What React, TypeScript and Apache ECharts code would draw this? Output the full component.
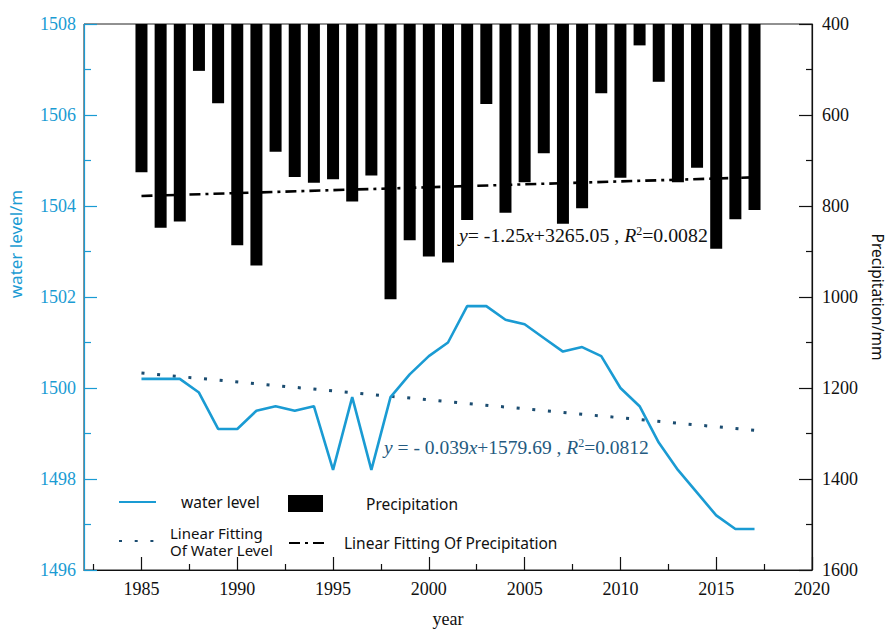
import React, { useEffect, useRef } from 'react';
import * as echarts from 'echarts';

const years = [1985, 1986, 1987, 1988, 1989, 1990, 1991, 1992, 1993, 1994, 1995, 1996, 1997, 1998, 1999, 2000, 2001, 2002, 2003, 2004, 2005, 2006, 2007, 2008, 2009, 2010, 2011, 2012, 2013, 2014, 2015, 2016, 2017];
const precipitation = [726, 848, 834, 503, 574, 886, 931, 681, 736, 749, 741, 790, 733, 1005, 875, 911, 924, 831, 576, 815, 748, 684, 839, 805, 552, 738, 447, 527, 748, 716, 894, 829, 809];
const waterLevel = [1500.2, 1500.2, 1500.2, 1499.9, 1499.1, 1499.1, 1499.5, 1499.6, 1499.5, 1499.6, 1498.2, 1499.8, 1498.2, 1499.8, 1500.3, 1500.7, 1501.0, 1501.8, 1501.8, 1501.5, 1501.4, 1501.1, 1500.8, 1500.9, 1500.7, 1500.0, 1499.6, 1498.8, 1498.2, 1497.7, 1497.2, 1496.9, 1496.9];
const waterFitYears = [1985, 2017];
const waterFitValues = [1500.33, 1499.07];
const precipFitYears = [1985, 2017];
const precipFitValues = [778, 737];
const majorYearTicks = [1985, 1990, 1995, 2000, 2005, 2010, 2015, 2020];
const minorYearTicks = [1982.5, 1987.5, 1992.5, 1997.5, 2002.5, 2007.5, 2012.5, 2017.5];
const precipEquation = '{i|y}{n|= -1.25}{i|x}{n|+3265.05 , }{i|R}{s|2}{n|=0.0082}';
const waterEquation = '{i|y}{n| = - 0.039}{i|x}{n|+1579.69 , }{i|R}{s|2}{n|=0.0812}';

const CYAN = '#1a9bd3';
const DARKBLUE = '#1b4c70';
const SERIF = 'Liberation Serif';
const SANS = 'Noto Sans';

function eqRich(color: string, size: number) {
  return {
    n: { fontFamily: SERIF, fontSize: size, fill: color, color },
    i: { fontFamily: SERIF, fontSize: size, fontStyle: 'italic', fill: color, color },
    s: { fontFamily: SERIF, fontSize: Math.round(size * 0.6), fill: color, color, verticalAlign: 'top' },
  };
}

const plain = (v: number) => String(v);

export default function App() {
  const ref = useRef<HTMLDivElement>(null);
  useEffect(() => {
    if (!ref.current) return;
    const chart = echarts.init(ref.current, null, { renderer: 'svg' });
    const legendText = { fontFamily: SANS, fontSize: 15.5, color: '#111' };
    const serifLabel = (color: string, margin: number) => ({
      formatter: plain, fontFamily: SERIF, fontSize: 18, color, margin,
    });
    const option: any = {
      animation: false,
      backgroundColor: '#fff',
      textStyle: { fontFamily: SERIF },
      grid: {
        left: 84, right: 78, top: 24, bottom: 59,
        show: true, borderColor: '#222', borderWidth: 1,
        containLabel: false, outerBoundsMode: 'none',
      },
      xAxis: [
        {
          type: 'value', min: 1982, max: 2020, position: 'bottom',
          name: 'year', nameLocation: 'middle', nameGap: 40,
          nameTextStyle: { fontFamily: SERIF, fontSize: 18, color: '#111' },
          axisLine: { show: true, lineStyle: { color: '#111', width: 1.2 } },
          axisTick: { show: true, inside: true, length: 13, customValues: majorYearTicks, lineStyle: { color: '#111', width: 1.2 } },
          axisLabel: { ...serifLabel('#111', 10), customValues: majorYearTicks },
          splitLine: { show: false },
        },
        {
          type: 'value', min: 1982, max: 2020, position: 'bottom',
          axisLine: { show: false },
          axisTick: { show: true, inside: true, length: 6, customValues: minorYearTicks, lineStyle: { color: '#111', width: 1.2 } },
          axisLabel: { show: false },
          splitLine: { show: false },
        },
      ],
      yAxis: [
        {
          type: 'value', min: 1496, max: 1508, interval: 2, position: 'left',
          name: 'water level/m', nameLocation: 'middle', nameRotate: 90, nameGap: 60,
          nameTextStyle: { fontFamily: SANS, fontSize: 17, color: CYAN, padding: [0, 0, 0, 106] },
          axisLine: { show: true, lineStyle: { color: CYAN, width: 1.2 } },
          axisTick: { show: true, inside: true, length: 13, lineStyle: { color: CYAN, width: 1.2 } },
          minorTick: { show: true, splitNumber: 2, length: 7, lineStyle: { color: CYAN, width: 1.2 } },
          axisLabel: serifLabel(CYAN, 8),
          splitLine: { show: false },
          minorSplitLine: { show: false },
        },
        {
          type: 'value', min: 400, max: 1600, interval: 200, inverse: true, position: 'right', startValue: 400,
          name: 'Precipitation/mm', nameLocation: 'middle', nameRotate: -90, nameGap: 58,
          nameTextStyle: { fontFamily: SANS, fontSize: 15.5, color: '#111' },
          axisLine: { show: true, lineStyle: { color: '#111', width: 1.2 } },
          axisTick: { show: true, inside: true, length: 13, lineStyle: { color: '#111', width: 1.2 } },
          minorTick: { show: true, splitNumber: 2, length: 6, lineStyle: { color: '#111', width: 1.2 } },
          axisLabel: serifLabel('#111', 10),
          splitLine: { show: false },
          minorSplitLine: { show: false },
        },
      ],
      legend: [
        {
          data: ['water level'], left: 118, top: 494, padding: 0, itemWidth: 37, itemHeight: 14,
          selectedMode: false, itemStyle: { opacity: 0 }, textStyle: { ...legendText, padding: [0, 0, 0, 20] },
        },
        {
          data: [{ name: 'Precipitation', icon: 'rect' }], left: 288, top: 495, padding: 0, itemWidth: 35, itemHeight: 17,
          selectedMode: false, textStyle: { ...legendText, padding: [0, 0, 0, 38] },
        },
        {
          data: ['Linear Fitting Of Water Level'], left: 118, top: 524, padding: 0, itemWidth: 42, itemHeight: 14,
          selectedMode: false, itemStyle: { opacity: 0 }, formatter: () => 'Linear Fitting\nOf Water Level',
          textStyle: { ...legendText, fontSize: 15, lineHeight: 17, padding: [0, 0, 0, 4] },
        },
        {
          data: ['Linear Fitting Of Precipitation'], left: 288, top: 535, padding: 0, itemWidth: 37, itemHeight: 14,
          selectedMode: false, itemStyle: { opacity: 0 }, textStyle: { ...legendText, padding: [0, 0, 0, 13] },
        },
      ],
      series: [
        {
          type: 'bar', name: 'Precipitation', xAxisIndex: 0, yAxisIndex: 1,
          data: years.map((y, i) => [y, precipitation[i]]),
          barWidth: 12, clip: true, itemStyle: { color: '#000' },
        },
        {
          type: 'line', name: 'Linear Fitting Of Precipitation', xAxisIndex: 0, yAxisIndex: 1,
          data: precipFitYears.map((y, i) => [y, precipFitValues[i]]),
          symbol: 'none', lineStyle: { color: '#000', width: 2.6, type: [11, 5, 3, 5] }, itemStyle: { color: '#000' },
          z: 3,
        },
        {
          type: 'line', name: 'water level', xAxisIndex: 0, yAxisIndex: 0,
          data: years.map((y, i) => [y, waterLevel[i]]),
          symbol: 'none', lineStyle: { color: CYAN, width: 2.6 }, itemStyle: { color: CYAN },
          z: 4,
        },
        {
          type: 'line', name: 'Linear Fitting Of Water Level', xAxisIndex: 0, yAxisIndex: 0,
          data: waterFitYears.map((y, i) => [y, waterFitValues[i]]),
          symbol: 'none', lineStyle: { color: DARKBLUE, width: 3, type: [3, 12.7] }, itemStyle: { color: DARKBLUE },
          z: 3,
        },
      ],
      graphic: [
        {
          type: 'text', x: 459, y: 235, z: 100,
          style: { text: precipEquation, verticalAlign: 'middle', fontFamily: SERIF, fontSize: 19.8, fill: '#111', rich: eqRich('#111', 19.8) },
        },
        {
          type: 'text', x: 384, y: 447, z: 100,
          style: { text: waterEquation, verticalAlign: 'middle', fontFamily: SERIF, fontSize: 19.5, fill: '#245a80', rich: eqRich('#245a80', 19.5) },
        },
      ],
    };
    chart.setOption(option);
    return () => chart.dispose();
  }, []);
  return <div ref={ref} style={{ position: 'fixed', left: 0, top: 0, width: 890, height: 629 }} />;
}
